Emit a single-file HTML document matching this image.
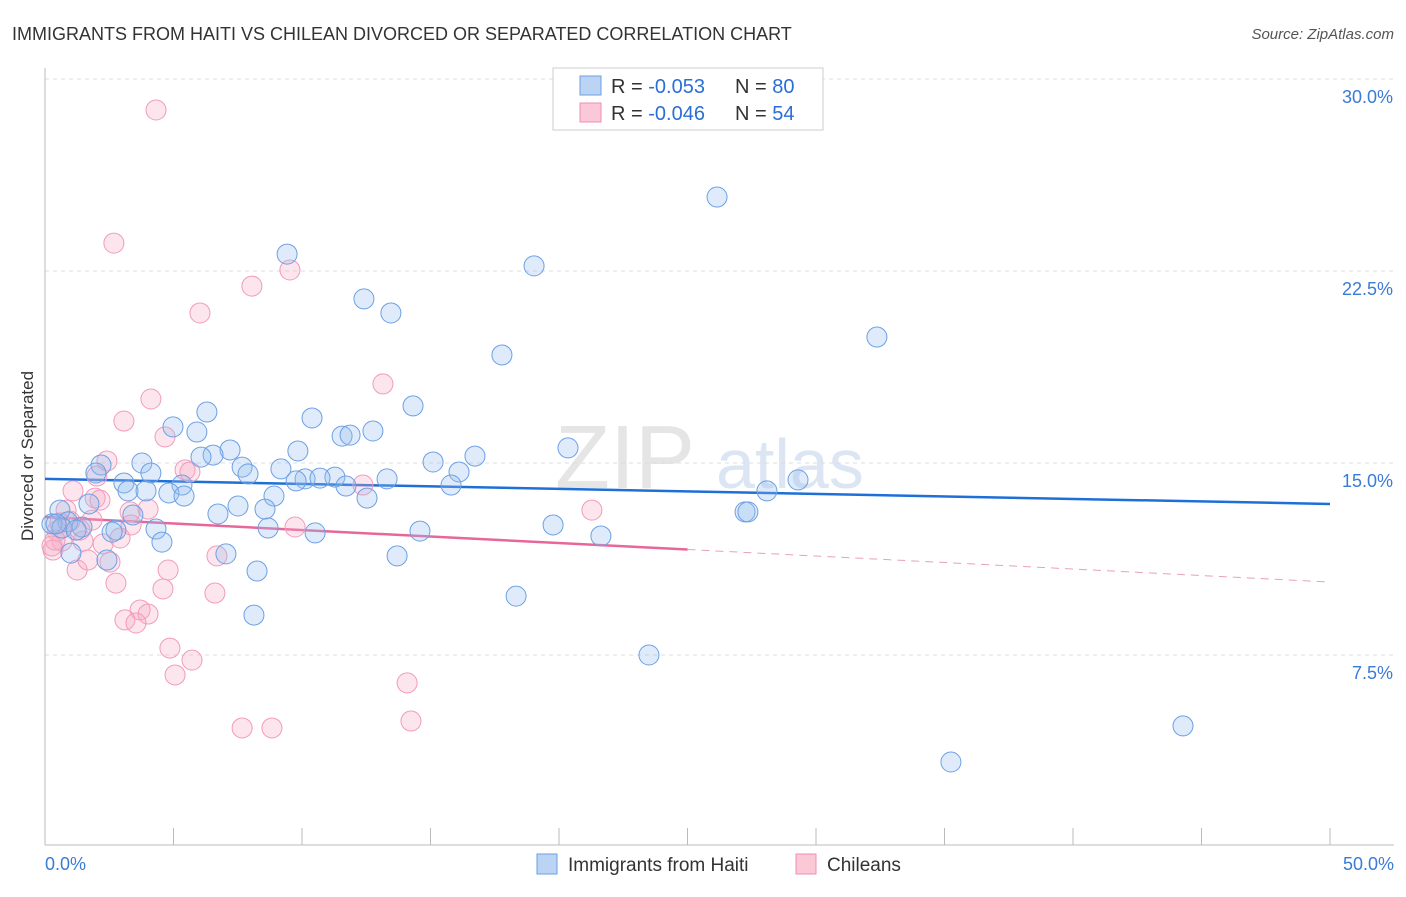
<!DOCTYPE html>
<html><head><meta charset="utf-8"><style>
body{margin:0;background:#fff;font-family:"Liberation Sans",sans-serif}
svg text{font-family:"Liberation Sans",sans-serif}
</style></head><body>
<svg id="chart" width="1406" height="892" xmlns="http://www.w3.org/2000/svg">
<text x="12" y="40" font-size="18" fill="#333">IMMIGRANTS FROM HAITI VS CHILEAN DIVORCED OR SEPARATED CORRELATION CHART</text>
<text x="1394" y="39" font-size="15" fill="#555" font-style="italic" text-anchor="end">Source: ZipAtlas.com</text>
<text transform="translate(33,456) rotate(-90)" font-size="17" fill="#333" text-anchor="middle">Divorced or Separated</text>
<g opacity="0.5"><text x="555" y="488" font-size="90" fill="#ccc" font-family="Liberation Serif">ZIP</text><text x="716" y="488" font-size="70" fill="#b8cde8">atlas</text></g>
<g id="grid"></g><g id="axes"></g><g id="trend"></g><g id="pts"></g>
<g>
<rect x="553" y="68" width="270" height="62" fill="#fff" stroke="#ccc"/>
<rect x="580" y="76" width="21" height="19" fill="#bcd4f4" stroke="#6a9fe0"/>
<rect x="580" y="103" width="21" height="19" fill="#fbc8d8" stroke="#f08cb0"/>
<text x="611" y="93" font-size="20" fill="#333">R = <tspan fill="#2a6fd6">-0.053</tspan></text>
<text x="735" y="93" font-size="20" fill="#333">N = <tspan fill="#2a6fd6">80</tspan></text>
<text x="611" y="120" font-size="20" fill="#333">R = <tspan fill="#2a6fd6">-0.046</tspan></text>
<text x="735" y="120" font-size="20" fill="#333">N = <tspan fill="#2a6fd6">54</tspan></text>
</g>
<g>
<rect x="537" y="854" width="20" height="20" fill="#bcd4f4" stroke="#6a9fe0"/>
<text x="568" y="871" font-size="19" fill="#333">Immigrants from Haiti</text>
<rect x="796" y="854" width="20" height="20" fill="#fbc8d8" stroke="#f08cb0"/>
<text x="827" y="871" font-size="19" fill="#333">Chileans</text>
</g>
</svg>
<script>
const blueX=[9.42,26.15,19.03,12.41,13.46,32.37,17.78,14.32,6.30,10.39,4.98,12.76,11.56,11.87,5.91,7.20,9.84,6.54,16.73,20.35,6.07,15.10,3.77,2.18,7.67,9.18,16.11,1.98,4.12,7.90,11.28,10.12,10.70,9.77,3.07,13.31,5.33,15.80,3.23,3.93,4.82,5.41,12.53,8.91,1.71,7.51,8.56,28.09,29.30,0.58,6.73,3.42,11.71,27.24,27.35,0.89,1.44,0.27,8.68,4.32,2.76,2.61,0.66,19.77,14.59,10.51,21.63,4.55,1.01,7.04,2.41,13.70,8.25,18.33,8.13,23.50,44.28,35.25,0.43,1.21];
const blueY=[23.16,25.39,22.70,21.41,20.86,19.92,19.22,17.23,16.99,16.76,16.41,16.25,16.05,16.09,16.21,15.51,15.47,15.31,15.27,15.59,15.23,15.04,15.0,14.92,14.84,14.77,14.65,14.61,14.61,14.57,14.45,14.38,14.41,14.30,14.22,14.38,14.14,14.14,13.91,13.91,13.83,13.71,13.63,13.71,13.40,13.32,13.20,13.91,14.34,13.16,13.01,12.97,14.10,13.09,13.09,12.70,12.50,12.62,12.46,12.42,12.38,12.30,12.46,12.58,12.34,12.27,12.15,11.91,11.48,11.45,11.21,11.37,10.78,9.80,9.06,7.50,4.73,3.32,12.62,12.38];
const pinkX=[4.32,2.68,9.53,8.05,6.03,13.15,4.12,3.07,4.67,2.41,5.45,5.64,2.02,1.09,1.95,3.31,0.82,1.83,12.37,9.73,21.28,3.35,0.97,2.92,0.47,1.48,0.66,0.31,2.26,0.39,2.53,6.69,1.25,4.79,1.67,2.76,4.59,6.61,3.70,4.01,3.11,3.54,4.86,5.72,5.06,14.09,7.67,8.83,14.24,0.27,0.58,1.36,2.14,4.01];
const pinkY=[28.79,23.59,22.54,21.91,20.86,18.09,17.50,16.64,16.02,15.08,14.73,14.65,14.49,13.91,13.63,13.09,13.16,12.77,14.14,12.5,13.16,12.58,12.73,12.07,12.34,11.95,11.95,11.60,11.84,11.99,11.13,11.37,10.82,10.82,11.21,10.31,10.08,9.92,9.26,9.10,8.87,8.75,7.77,7.30,6.72,6.41,4.65,4.65,4.92,11.76,12.66,12.38,13.55,13.20];
const yTicks=[7.5,15.0,22.5,30.0];
const xTickVals=[0,5,10,15,20,25,30,35,40,45,50];
const blueTrend=[14.38,13.40];
const pinkTrend=[12.89,10.35];
const pinkSolidEnd=25;
const NS="http://www.w3.org/2000/svg";
const sx=v=>45+v*1285/50, sy=v=>847-v*192/7.5;
function mk(p,t,a){const e=document.createElementNS(NS,t);for(const k in a)e.setAttribute(k,a[k]);document.getElementById(p).appendChild(e);return e;}
yTicks.forEach(v=>{
 const l=mk('grid','line',{x1:45,x2:1394,y1:sy(v),y2:sy(v),stroke:'#ddd','stroke-dasharray':'4,4'});
 
 
 const t=mk('grid','text',{x:1393,y:sy(v)+24,'font-size':18,fill:'#3a7bd5','text-anchor':'end'});t.textContent=v.toFixed(1)+'%';
 
 
});
mk('axes','line',{x1:45,x2:45,y1:68,y2:845,stroke:'#bbb'});
mk('axes','line',{x1:45,x2:1394,y1:845,y2:845,stroke:'#bbb'});
xTickVals.forEach(v=>{
 const l=mk('axes','line',{x1:sx(v),x2:sx(v),y1:828,y2:845,stroke:'#bbb'});
 
 
});
const t0=mk('axes','text',{x:45,y:870,'font-size':18,fill:'#3a7bd5'});t0.textContent='0.0%';


const t1=mk('axes','text',{x:1394,y:870,'font-size':18,fill:'#3a7bd5','text-anchor':'end'});t1.textContent='50.0%';


function pts(X,Y,fill,stroke,name){X.forEach((x,i)=>{const c=mk('pts','circle',{cx:sx(x),cy:sy(Y[i]),r:10,fill:fill,stroke:stroke,'stroke-width':1});
 
 });}
pts(pinkX,pinkY,'rgba(248,170,195,0.3)','#f19bbb','chilean-point');
pts(blueX,blueY,'rgba(150,190,240,0.3)','#6ca0e4','haiti-point');
const bt=mk('trend','line',{x1:sx(0),y1:sy(blueTrend[0]),x2:sx(50),y2:sy(blueTrend[1]),stroke:'#1f6fd8','stroke-width':2.5});


const pAt=x=>pinkTrend[0]+(pinkTrend[1]-pinkTrend[0])*x/50;
const pt=mk('trend','line',{x1:sx(0),y1:sy(pinkTrend[0]),x2:sx(pinkSolidEnd),y2:sy(pAt(pinkSolidEnd)),stroke:'#e8679a','stroke-width':2.5});


const pd=mk('trend','line',{x1:sx(pinkSolidEnd),y1:sy(pAt(pinkSolidEnd)),x2:sx(50),y2:sy(pinkTrend[1]),stroke:'#e8a0bc','stroke-width':1,'stroke-dasharray':'8,6'});


</script>
</body></html>
